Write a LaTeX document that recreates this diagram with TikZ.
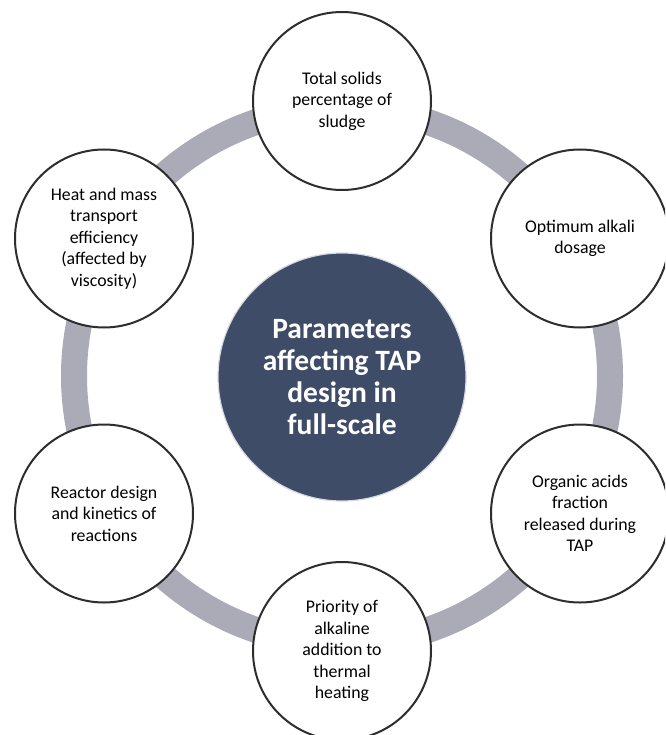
\documentclass[tikz,border=0pt]{standalone}
\usepackage{fontspec}
\setmainfont{Carlito}
\definecolor{ringgray}{RGB}{171,171,183}
\definecolor{hubblue}{RGB}{62,76,104}
\definecolor{hubedge}{RGB}{215,218,224}
\definecolor{rimgray}{RGB}{45,45,45}
\begin{document}
\begin{tikzpicture}[x=1pt,y=-1pt,
  ring/.style={draw=ringgray, line width=26pt},
  hub/.style={circle, fill=hubblue, draw=hubedge, line width=1.2pt,
    minimum size=248pt, inner sep=0pt, text=white, align=center,
    font=\bfseries\fontsize{29.5}{32}\selectfont},
  factor/.style={circle, fill=white, draw=rimgray, line width=2pt,
    minimum size=178pt, inner sep=0pt, align=center,
    font=\fontsize{17.8}{21.5}\selectfont}]
  % page frame
  \useasboundingbox (0,0) rectangle (665,735);
  \clip (0,0) rectangle (665,735);
  \fill[white] (0,0) rectangle (665,735);

  % centre of the layout and the connecting ring
  \coordinate (mid) at (342,376);
  \draw[ring] (mid) circle[radius=268];

  % central topic
  \node[hub] (hub) at (342,377) {Parameters\\affecting TAP\\design in\\full-scale};

  % six parameters placed on a hexagon around the centre
  \node[factor] (solids)   at (342,101)   {Total solids\\percentage of\\sludge};
  \node[factor] (alkali)   at (580,238.5) {Optimum alkali\\dosage};
  \node[factor] (acids)    at (580,513.5) {Organic acids\\fraction\\released during\\TAP};
  \node[factor] (priority) at (342,651)   {Priority of\\alkaline\\addition to\\thermal\\heating};
  \node[factor] (reactor)  at (104,513.5) {Reactor design\\and kinetics of\\reactions};
  \node[factor] (heat)     at (104,238.5) {Heat and mass\\transport\\efficiency\\(affected by\\viscosity)};
\end{tikzpicture}
\end{document}
